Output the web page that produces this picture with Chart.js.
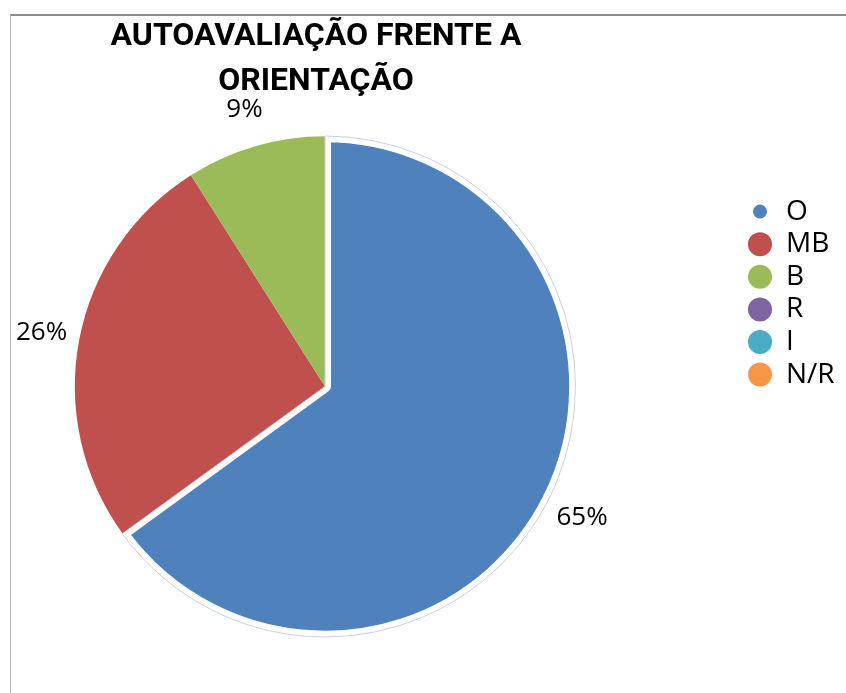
<!DOCTYPE html>
<html lang="pt">
<head>
<meta charset="utf-8">
<title>Autoavaliação frente a orientação</title>
<script src="https://cdn.jsdelivr.net/npm/chart.js@4.4.1/dist/chart.umd.min.js"></script>
<style>
    html, body { margin: 0; padding: 0; background: #fff; }
    #wrap { position: relative; width: 846px; height: 693px; overflow: hidden; }
    #frame {
        position: absolute; left: 10px; top: 14px; width: 850px; height: 690px;
        border-top: 2px solid #8e8e8e; border-left: 1px solid #b4b4b4;
    }
    #chart { position: absolute; left: 0; top: 0; }
</style>
</head>
<body>
<div id="wrap">
    <div id="frame"></div>
    <canvas id="chart" width="846" height="693"></canvas>
</div>
<script>
// Chart data
const categories = ['O', 'MB', 'B', 'R', 'I', 'N/R'];
const percentages = [65, 26, 9, 0, 0, 0];
const sliceColors = ['#4F81BD', '#C0504D', '#9BBB59', '#8064A2', '#4BACC6', '#F79646'];
const titleLines = ['AUTOAVALIAÇÃO FRENTE A', 'ORIENTAÇÃO'];

document.addEventListener('DOMContentLoaded', function() {
    const bodyFont = '"Open Sans", "Noto Sans", sans-serif';
    const titleFont = 'Roboto, "Open Sans", sans-serif';

    // Where things sit on the sheet
    const pieBox = { left: 74.5, top: 136, size: 501 };
    const titleCenter = 316;
    const legendPos = { left: 743.4, top: 193 };

    // Put the pie in a square on the left and move title / legend like the sheet
    const sheetLayout = {
        id: 'sheetLayout',
        afterLayout(chart) {
            chart.chartArea = {
                left: pieBox.left,
                top: pieBox.top,
                right: pieBox.left + pieBox.size,
                bottom: pieBox.top + pieBox.size,
                width: pieBox.size,
                height: pieBox.size
            };
            const title = chart.titleBlock;
            title.left = titleCenter - 300;
            title.right = titleCenter + 300;
            title.width = 600;
            const legend = chart.legend;
            const w = legend.width, h = legend.height;
            legend.left = legendPos.left;
            legend.right = legendPos.left + w;
            legend.top = legendPos.top;
            legend.bottom = legendPos.top + h;
        }
    };

    // Selection outline round the first slice and the percent labels outside the pie
    const percentLabels = {
        id: 'percentLabels',
        afterDatasetsDraw(chart) {
            const ctx = chart.ctx;
            const meta = chart.getDatasetMeta(0);
            ctx.save();

            const a = meta.data[0].getProps(['x', 'y', 'startAngle', 'endAngle', 'outerRadius'], true);
            ctx.strokeStyle = '#c5d4e9';
            ctx.lineWidth = 1;
            ctx.beginPath();
            ctx.moveTo(a.x, a.y);
            ctx.arc(a.x, a.y, a.outerRadius, a.startAngle, a.endAngle);
            ctx.closePath();
            ctx.stroke();

            ctx.font = '26px ' + bodyFont;
            ctx.fillStyle = '#000';
            ctx.textAlign = 'center';
            ctx.textBaseline = 'middle';
            meta.data.forEach((arc, i) => {
                const value = percentages[i];
                if (!value) return;
                const p = arc.getProps(['x', 'y', 'startAngle', 'endAngle', 'outerRadius'], true);
                const mid = (p.startAngle + p.endAngle) / 2;
                const r = p.outerRadius + 38;
                ctx.fillText(value + '%', p.x + Math.cos(mid) * r, p.y + Math.sin(mid) * r);
            });
            ctx.restore();
        }
    };

    const defaultLabels = Chart.overrides.pie.plugins.legend.labels.generateLabels;

    new Chart(document.getElementById('chart'), {
        type: 'pie',
        data: {
            labels: categories,
            datasets: [{
                data: percentages,
                backgroundColor: sliceColors,
                borderColor: '#ffffff',
                borderWidth: [6, 0, 0, 0, 0, 0],
                borderAlign: 'inner'
            }]
        },
        options: {
            responsive: false,
            animation: false,
            events: [],
            plugins: {
                tooltip: { enabled: false },
                title: {
                    display: true,
                    text: titleLines,
                    color: '#000',
                    font: { family: titleFont, size: 32, weight: 'bold', lineHeight: 1.41 },
                    padding: { top: 14, bottom: 0 }
                },
                legend: {
                    position: 'right',
                    align: 'start',
                    labels: {
                        usePointStyle: true,
                        pointStyle: 'circle',
                        boxWidth: 24,
                        boxHeight: 17,
                        padding: 4.6,
                        color: '#000',
                        font: { family: bodyFont, size: 28 },
                        generateLabels(chart) {
                            const items = defaultLabels(chart);
                            // the selected slice shows as a smaller dot in a white ring
                            items.forEach((item, i) => {
                                item.lineWidth = i === 0 ? 10 : 0;
                                item.strokeStyle = '#ffffff';
                            });
                            return items;
                        }
                    }
                }
            }
        },
        plugins: [sheetLayout, percentLabels]
    });
});
</script>
</body>
</html>
